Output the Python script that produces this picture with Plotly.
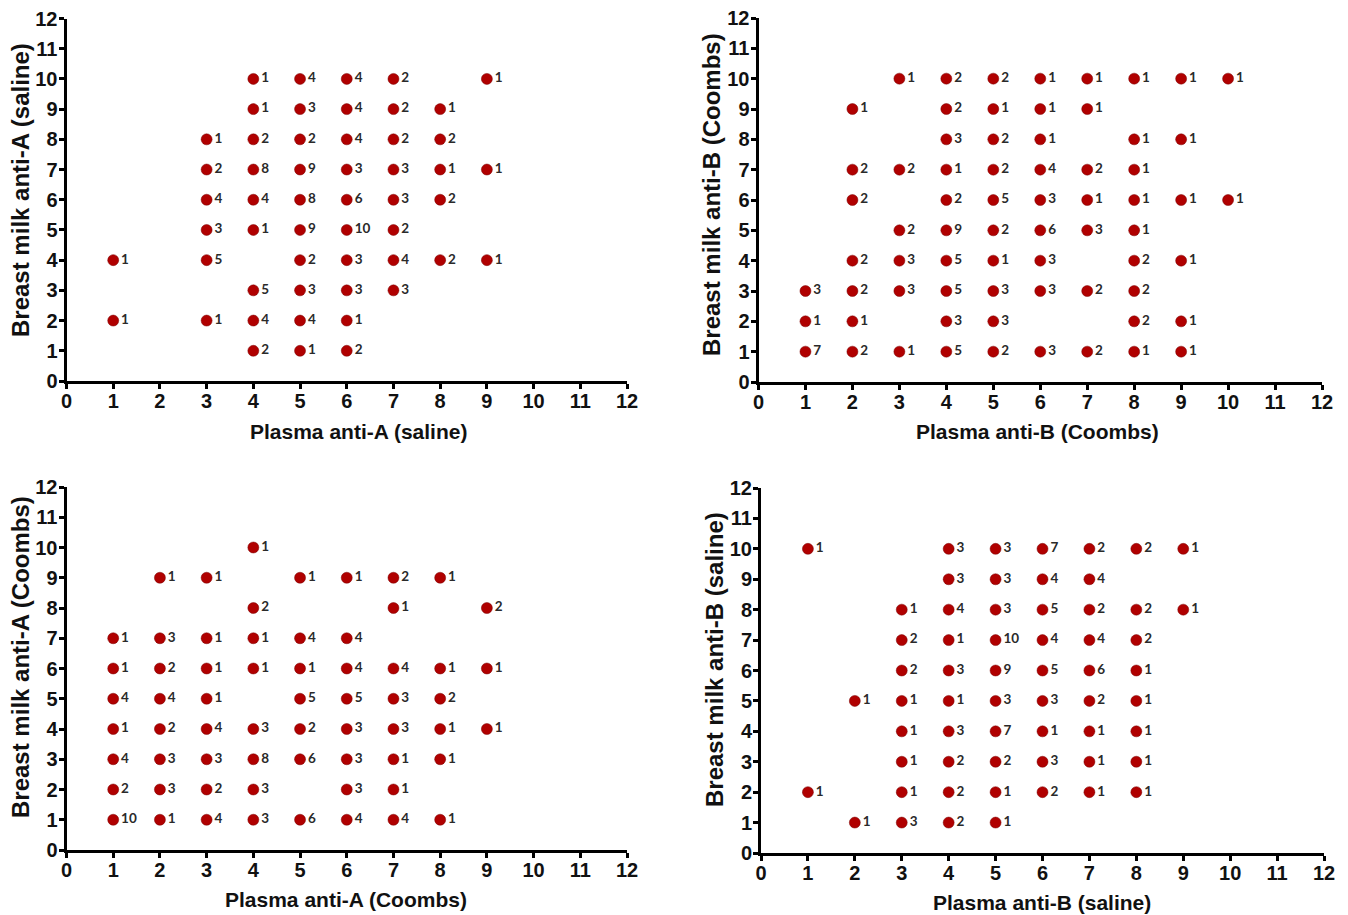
import plotly.graph_objects as go

# ---------------- data (x = plasma titre, y = breast milk titre, n = count) -------------
p1_x = [1, 1, 3, 3, 3, 3, 3, 3, 4, 4, 4, 4, 4, 4, 4, 4, 4, 5, 5, 5, 5, 5, 5, 5, 5, 5, 5,
        6, 6, 6, 6, 6, 6, 6, 6, 6, 6, 7, 7, 7, 7, 7, 7, 7, 7, 8, 8, 8, 8, 8, 9, 9, 9]
p1_y = [4, 2, 8, 7, 6, 5, 4, 2, 10, 9, 8, 7, 6, 5, 3, 2, 1, 10, 9, 8, 7, 6, 5, 4, 3, 2, 1,
        10, 9, 8, 7, 6, 5, 4, 3, 2, 1, 10, 9, 8, 7, 6, 5, 4, 3, 9, 8, 7, 6, 4, 10, 7, 4]
p1_n = [1, 1, 1, 2, 4, 3, 5, 1, 1, 1, 2, 8, 4, 1, 5, 4, 2, 4, 3, 2, 9, 8, 9, 2, 3, 4, 1,
        4, 4, 4, 3, 6, 10, 3, 3, 1, 2, 2, 2, 2, 3, 3, 2, 4, 3, 1, 2, 1, 2, 2, 1, 1, 1]

p2_x = [1, 1, 1, 2, 2, 2, 2, 2, 2, 2, 3, 3, 3, 3, 3, 3, 4, 4, 4, 4, 4, 4, 4, 4, 4, 4,
        5, 5, 5, 5, 5, 5, 5, 5, 5, 5, 6, 6, 6, 6, 6, 6, 6, 6, 6, 7, 7, 7, 7, 7, 7, 7,
        8, 8, 8, 8, 8, 8, 8, 8, 8, 9, 9, 9, 9, 9, 9, 10, 10]
p2_y = [3, 2, 1, 9, 7, 6, 4, 3, 2, 1, 10, 7, 5, 4, 3, 1, 10, 9, 8, 7, 6, 5, 4, 3, 2, 1,
        10, 9, 8, 7, 6, 5, 4, 3, 2, 1, 10, 9, 8, 7, 6, 5, 4, 3, 1, 10, 9, 7, 6, 5, 3, 1,
        10, 8, 7, 6, 5, 4, 3, 2, 1, 10, 8, 6, 4, 2, 1, 10, 6]
p2_n = [3, 1, 7, 1, 2, 2, 2, 2, 1, 2, 1, 2, 2, 3, 3, 1, 2, 2, 3, 1, 2, 9, 5, 5, 3, 5,
        2, 1, 2, 2, 5, 2, 1, 3, 3, 2, 1, 1, 1, 4, 3, 6, 3, 3, 3, 1, 1, 2, 1, 3, 2, 2,
        1, 1, 1, 1, 1, 2, 2, 2, 1, 1, 1, 1, 1, 1, 1, 1, 1]

p3_x = [1, 1, 1, 1, 1, 1, 1, 2, 2, 2, 2, 2, 2, 2, 2, 3, 3, 3, 3, 3, 3, 3, 3,
        4, 4, 4, 4, 4, 4, 4, 4, 5, 5, 5, 5, 5, 5, 5, 6, 6, 6, 6, 6, 6, 6, 6,
        7, 7, 7, 7, 7, 7, 7, 7, 8, 8, 8, 8, 8, 8, 9, 9, 9]
p3_y = [7, 6, 5, 4, 3, 2, 1, 9, 7, 6, 5, 4, 3, 2, 1, 9, 7, 6, 5, 4, 3, 2, 1,
        10, 8, 7, 6, 4, 3, 2, 1, 9, 7, 6, 5, 4, 3, 1, 9, 7, 6, 5, 4, 3, 2, 1,
        9, 8, 6, 5, 4, 3, 2, 1, 9, 6, 5, 4, 3, 1, 8, 6, 4]
p3_n = [1, 1, 4, 1, 4, 2, 10, 1, 3, 2, 4, 2, 3, 3, 1, 1, 1, 1, 1, 4, 3, 2, 4,
        1, 2, 1, 1, 3, 8, 3, 3, 1, 4, 1, 5, 2, 6, 6, 1, 4, 4, 5, 3, 3, 3, 4,
        2, 1, 4, 3, 3, 1, 1, 4, 1, 1, 2, 1, 1, 1, 2, 1, 1]

p4_x = [1, 1, 2, 2, 3, 3, 3, 3, 3, 3, 3, 3, 4, 4, 4, 4, 4, 4, 4, 4, 4, 4,
        5, 5, 5, 5, 5, 5, 5, 5, 5, 5, 6, 6, 6, 6, 6, 6, 6, 6, 6,
        7, 7, 7, 7, 7, 7, 7, 7, 7, 8, 8, 8, 8, 8, 8, 8, 8, 9, 9]
p4_y = [10, 2, 5, 1, 8, 7, 6, 5, 4, 3, 2, 1, 10, 9, 8, 7, 6, 5, 4, 3, 2, 1,
        10, 9, 8, 7, 6, 5, 4, 3, 2, 1, 10, 9, 8, 7, 6, 5, 4, 3, 2,
        10, 9, 8, 7, 6, 5, 4, 3, 2, 10, 8, 7, 6, 5, 4, 3, 2, 10, 8]
p4_n = [1, 1, 1, 1, 1, 2, 2, 1, 1, 1, 1, 3, 3, 3, 4, 1, 3, 1, 3, 2, 2, 2,
        3, 3, 3, 10, 9, 3, 7, 2, 1, 1, 7, 4, 5, 4, 5, 3, 1, 3, 2,
        2, 4, 2, 4, 6, 2, 1, 1, 1, 2, 2, 2, 1, 1, 1, 1, 1, 1, 1]

x_titles = ["Plasma anti-A (saline)", "Plasma anti-B (Coombs)",
            "Plasma anti-A (Coombs)", "Plasma anti-B (saline)"]
y_titles = ["Breast milk anti-A (saline)", "Breast milk anti-B (Coombs)",
            "Breast milk anti-A (Coombs)", "Breast milk anti-B (saline)"]
tick_vals = list(range(0, 13))
tick_text = [str(v) for v in tick_vals]

# ---------------- layout geometry (pixels) ----------------
W, H = 1348, 915
panels = [
    # x0, x1 (px), ytop, ybottom (px)
    (66.5, 627, 18.5, 381),
    (758.5, 1322, 18, 382),
    (66.5, 627, 487, 850),
    (761, 1324, 488, 853),
]
xtitle_pos = [(358, 431), (1037, 431), (346, 899), (1042, 902)]
ytitle_pos = [(20, 190), (711, 195), (20, 657), (714, 660)]

data = [(p1_x, p1_y, p1_n), (p2_x, p2_y, p2_n), (p3_x, p3_y, p3_n), (p4_x, p4_y, p4_n)]

fig = go.Figure()
MARK = "#b00000"
annotations = []
layout_axes = {}
for i, ((xs, ys, ns), (px0, px1, pyt, pyb)) in enumerate(zip(data, panels)):
    k = "" if i == 0 else str(i + 1)
    fig.add_trace(go.Scatter(
        x=xs, y=ys, text=[str(n) for n in ns],
        mode="markers+text", textposition="middle right",
        marker=dict(color=MARK, size=11, line=dict(color="#7a0000", width=0.5)),
        textfont=dict(family="Lato, 'Open Sans', sans-serif", size=13.5, color="#2a2a2a", weight="bold"),
        cliponaxis=False, showlegend=False, hoverinfo="skip",
        xaxis="x" + k, yaxis="y" + k,
    ))
    axcommon = dict(
        range=[0, 12], tickmode="array", tickvals=tick_vals, ticktext=tick_text,
        showgrid=False, zeroline=False, showline=True, linecolor="black", linewidth=3,
        ticks="outside", ticklen=5, tickwidth=2.5, tickcolor="black", automargin=False,
        tickfont=dict(family="Liberation Sans, Arial, sans-serif", size=20, color="#111111", weight="bold"),
        fixedrange=True,
    )
    layout_axes["xaxis" + k] = dict(axcommon, domain=[px0 / W, px1 / W], anchor="y" + k,
                                    ticklabelstandoff=-5)
    layout_axes["yaxis" + k] = dict(axcommon, domain=[1 - pyb / H, 1 - pyt / H], anchor="x" + k,
                                    ticklabelstandoff=-3)
    tx, ty = xtitle_pos[i]
    annotations.append(dict(
        text=x_titles[i], x=tx / W, y=1 - ty / H, xref="paper", yref="paper",
        xanchor="center", yanchor="middle", showarrow=False,
        font=dict(family="Liberation Sans, Arial, sans-serif", size=21, color="#111111", weight="bold"),
    ))
    ux, uy = ytitle_pos[i]
    annotations.append(dict(
        text=y_titles[i], x=ux / W, y=1 - uy / H, xref="paper", yref="paper",
        xanchor="center", yanchor="middle", showarrow=False, textangle=-90,
        font=dict(family="Liberation Sans, Arial, sans-serif", size=24, color="#111111", weight="bold"),
    ))

fig.update_layout(
    width=W, height=H, margin=dict(l=0, r=0, t=0, b=0),
    paper_bgcolor="white", plot_bgcolor="white",
    annotations=annotations, **layout_axes,
)

fig.write_html("out.html", config={"displayModeBar": False})
